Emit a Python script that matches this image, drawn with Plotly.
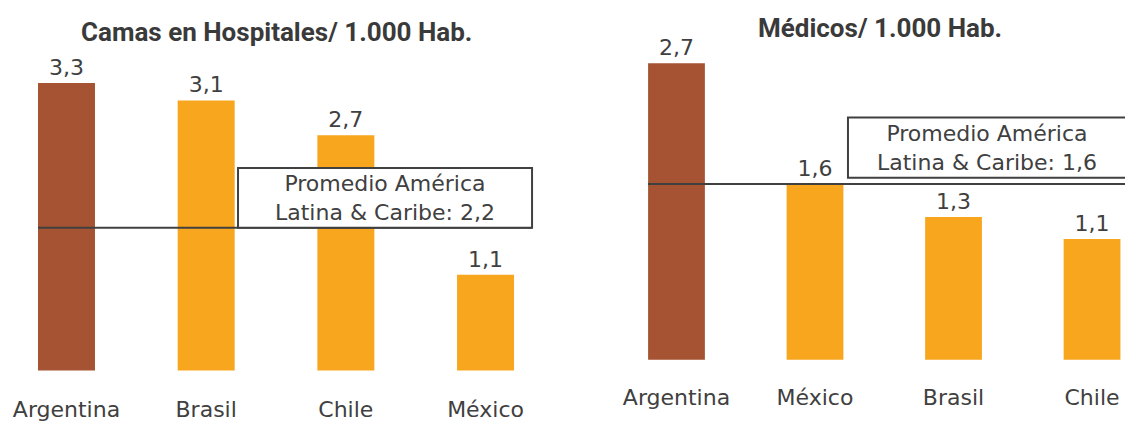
import plotly.graph_objects as go

# ---- data ----
left_title = "Camas en Hospitales/ 1.000 Hab."
left_categories = ["Argentina", "Brasil", "Chile", "México"]
left_values = [3.3, 3.1, 2.7, 1.1]
left_avg_text = "Promedio América<br>Latina & Caribe: 2,2"
left_avg_line = 1.64  # where the reference draws the average line

right_title = "Médicos/ 1.000 Hab."
right_categories = ["Argentina", "México", "Brasil", "Chile"]
right_values = [2.7, 1.6, 1.3, 1.1]
right_avg_text = "Promedio América<br>Latina & Caribe: 1,6"
right_avg_line = 1.6

BROWN = "#A55332"
ORANGE = "#F7A61E"
TXT = "#404040"
W, H = 1125, 422

def colors(n):
    return [BROWN] + [ORANGE] * (n - 1)

fig = go.Figure()
fig.add_trace(go.Bar(
    x=list(range(len(left_categories))), y=left_values, width=0.408,
    marker=dict(color=colors(len(left_values)), line=dict(width=0)),
    text=left_values, texttemplate="%{y:.1f}", textposition="outside",
    textfont=dict(family="DejaVu Sans", size=22, color=TXT),
    cliponaxis=False, xaxis="x", yaxis="y", showlegend=False, hoverinfo="skip"))
fig.add_trace(go.Bar(
    x=list(range(len(right_categories))), y=right_values, width=0.41,
    marker=dict(color=colors(len(right_values)), line=dict(width=0)),
    text=right_values, texttemplate="%{y:.1f}", textposition="outside",
    textfont=dict(family="DejaVu Sans", size=22, color=TXT),
    cliponaxis=False, xaxis="x2", yaxis="y2", showlegend=False, hoverinfo="skip"))

tickfont = dict(family="DejaVu Sans", size=22, color=TXT)
fig.update_layout(
    width=W, height=H, margin=dict(l=0, r=0, t=0, b=0),
    paper_bgcolor="white", plot_bgcolor="white",
    separators=",.",
    xaxis=dict(domain=[0, 0.5], range=[-0.476, 3.551], anchor="free", position=0.055,
               tickmode="array", tickvals=list(range(len(left_categories))),
               ticktext=left_categories, tickfont=tickfont, showgrid=False,
               zeroline=False, showline=False, ticks=""),
    yaxis=dict(domain=[0, 1], range=[-0.533, 4.252], visible=False, anchor="x"),
    xaxis2=dict(domain=[0.5, 1], range=[-0.823, 3.238], anchor="free", position=0.084,
                tickmode="array", tickvals=list(range(len(right_categories))),
                ticktext=right_categories, tickfont=tickfont, showgrid=False,
                zeroline=False, showline=False, ticks=""),
    yaxis2=dict(domain=[0, 1], range=[-0.522, 3.276], visible=False, anchor="x2"),
)

line_style = dict(color=TXT, width=2)
# left average line and box
fig.add_shape(type="line", xref="x", yref="y", x0=-0.204, x1=3.333,
              y0=left_avg_line, y1=left_avg_line, line=line_style, layer="above")
fig.add_shape(type="rect", xref="x", yref="y", x0=1.228, x1=3.333,
              y0=left_avg_line, y1=2.325, line=line_style, fillcolor="white", layer="above")
fig.add_annotation(xref="x", yref="y", x=2.281, y=1.985, text=left_avg_text,
                   xanchor="center", yanchor="middle",
                   showarrow=False, font=dict(family="DejaVu Sans", size=22, color=TXT))
# right average line and box
fig.add_shape(type="line", xref="x2", yref="y2", x0=-0.206, x1=3.25,
              y0=right_avg_line, y1=right_avg_line, line=line_style, layer="above")
fig.add_shape(type="rect", xref="x2", yref="y2", x0=1.238, x1=3.26,
              y0=1.656, y1=2.205, line=line_style, fillcolor="white", layer="above")
fig.add_annotation(xref="x2", yref="y2", x=2.242, y=1.926, text=right_avg_text,
                   xanchor="center", yanchor="middle",
                   showarrow=False, font=dict(family="DejaVu Sans", size=22, color=TXT))

# titles
title_font = dict(family="Roboto", size=26, color="#3a3a3a")
fig.add_annotation(xref="paper", yref="paper", x=276 / W, y=1 - 32 / H,
                   xanchor="center", yanchor="middle",
                   text="<b>" + left_title + "</b>", showarrow=False, font=title_font)
fig.add_annotation(xref="paper", yref="paper", x=880 / W, y=1 - 28 / H,
                   xanchor="center", yanchor="middle",
                   text="<b>" + right_title + "</b>", showarrow=False, font=title_font)

fig.write_html("out.html", config={"displayModeBar": False},
               post_script="document.body.style.margin='0';document.body.style.overflow='hidden';")
